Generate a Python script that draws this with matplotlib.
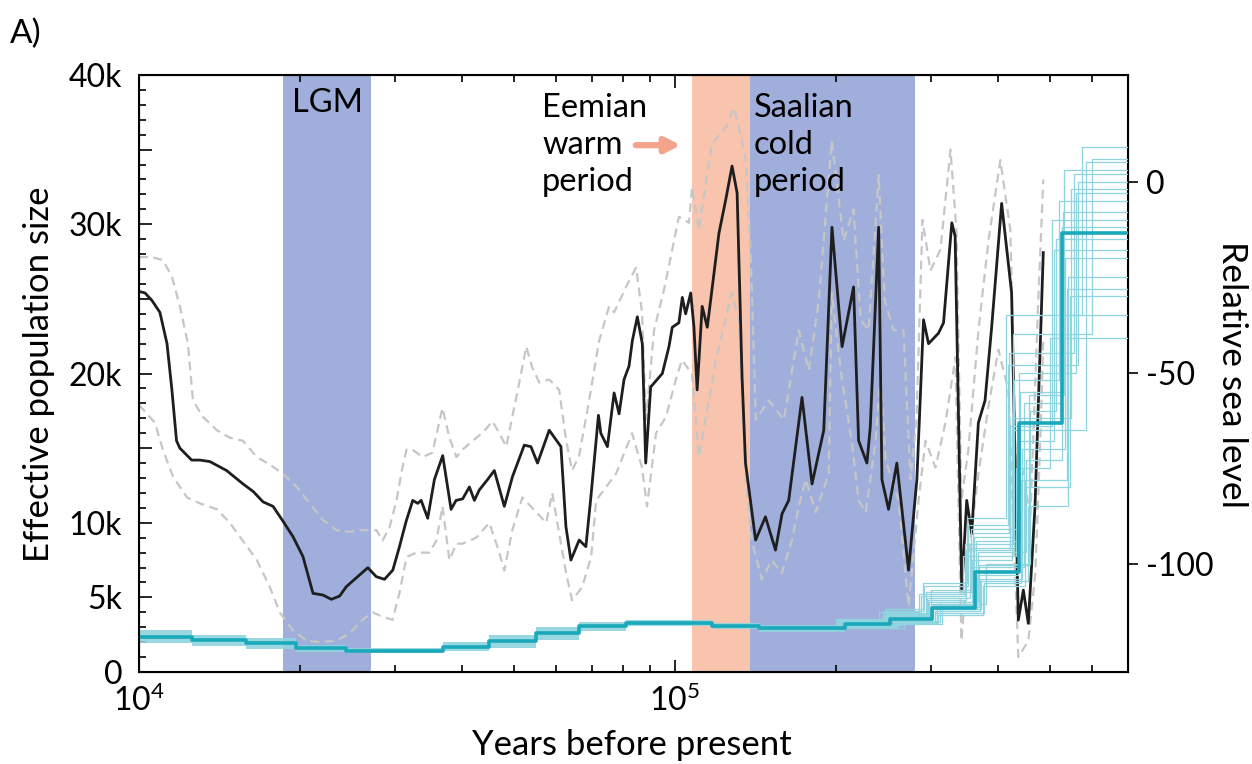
import matplotlib.pyplot as plt
from matplotlib.ticker import MultipleLocator, NullFormatter

plt.rcParams['font.family'] = ['Lato', 'DejaVu Sans']
plt.rcParams['mathtext.fontset'] = 'custom'
plt.rcParams['mathtext.rm'] = 'Lato'

# --- climate periods (years before present) ---
period_start = [18600, 107600, 138000]
period_end = [27100, 138000, 280700]
period_color = ['#a0aedb', '#f8c4ae', '#a0aedb']

# --- effective population size (median) ---
black_years = [10000, 10260, 10570, 10940, 11280, 11520, 11750, 11920, 12540, 12990,
               13560, 14570, 15640, 16330, 17040, 17790, 18570, 19380, 20230, 21120,
               22040, 22850, 23680, 24370, 25790, 26730, 27710, 28710, 29760, 30620,
               31510, 32420, 33120, 33610, 34570, 35580, 36870, 38220, 39050, 40170,
               41350, 42240, 43150, 44720, 46020, 48040, 49770, 52340, 53860, 55410,
               58270, 61270, 62600, 63950, 66260, 68200, 69670, 71990, 72720, 74810,
               76990, 78660, 80350, 82090, 83270, 85070, 86920, 88190, 90100, 94710,
               97450, 98850, 101700, 103200, 104700, 107000, 108500, 110000, 112400, 114900,
               120800, 124300, 127800, 130600, 133400, 135400, 141400, 147500, 154000, 158400,
               163000, 172600, 180200, 189500, 196300, 205000, 215400, 220100, 228100, 231400,
               239900, 243300, 250300, 259400, 272800, 282700, 290900, 297200, 310200, 317000,
               328500, 333200, 342800, 350200, 357800, 368200, 378900, 389800, 406900, 424700,
               437100, 446700, 456300, 469600, 486600]
black_ne = [25500, 25400, 24900, 24100, 22000, 18900, 15500, 15000, 14200, 14200,
            14100, 13500, 12600, 12100, 11400, 11100, 10100, 9070, 7730, 5270,
            5160, 4870, 5090, 5720, 6500, 6990, 6390, 6210, 6830, 8400,
            10100, 11500, 11300, 11500, 10300, 12900, 14500, 10900, 11500, 11600,
            12400, 11500, 12200, 12900, 13500, 11100, 13100, 15200, 15100, 14000,
            16200, 15100, 9740, 7500, 8840, 8400, 11700, 17200, 16000, 15100,
            18700, 17300, 19600, 20500, 22200, 23800, 22000, 14000, 19100, 20000,
            21800, 23100, 23400, 25100, 24000, 25400, 23100, 18900, 24500, 23100,
            29400, 31600, 33900, 32100, 19800, 14000, 8840, 10400, 8170, 10600,
            11500, 18400, 12600, 16200, 29800, 21800, 25800, 15500, 14000, 16400,
            29800, 12900, 10900, 14000, 6830, 12900, 23600, 22000, 22700, 23400,
            30100, 29200, 5490, 11500, 9290, 16700, 18200, 23100, 31400, 25400,
            3480, 5490, 3260, 11100, 28100]

# --- upper / lower bounds ---
upper_years = [10000, 10570, 11080, 11520, 11920, 12340, 12610, 13160, 13980, 14770,
               15620, 16590, 17540, 18540, 19690, 20820, 22010, 23380, 24720, 26130,
               27750, 28470, 29340, 30230, 31010, 31560, 32370, 33810, 35280, 36830,
               37950, 39110, 40130, 42600, 43710, 45640, 47020, 48440, 49720, 51230,
               52790, 54170, 55830, 58270, 60810, 62660, 64290, 66260, 69170, 72200,
               75370, 76990, 81060, 84610, 86800, 88310, 91400, 95400, 101700, 106200,
               107600, 110800, 117200, 124500, 128800, 131600, 135600, 138600, 141500, 149600,
               159600, 170200, 177700, 185500, 196100, 206400, 215400, 222000, 229800, 239900,
               246200, 255700, 266900, 275100, 282200, 289600, 299700, 312800, 326600, 335100,
               342300, 352700, 368300, 384500, 404600, 422500, 433500, 446700, 460200, 476200,
               486600]
upper_ne = [27800, 27800, 27600, 26500, 24500, 22000, 18200, 17100, 16200, 15700,
            15500, 14400, 13900, 13300, 12400, 11300, 10200, 9500, 9400, 9500,
            9500, 8800, 9700, 11500, 13700, 14900, 14900, 14400, 14700, 17700,
            15700, 14400, 14900, 15700, 16000, 16800, 16000, 15100, 17100, 19400,
            21800, 20400, 19400, 19600, 18900, 15500, 13500, 14500, 18200, 22200,
            24500, 24100, 25800, 27100, 24100, 16900, 22900, 25600, 30500, 30100,
            32500, 29600, 35400, 36500, 37800, 36500, 34300, 27600, 16900, 18200,
            16900, 22900, 20200, 24900, 35600, 28900, 31000, 23600, 22900, 33300,
            24900, 22900, 22900, 12900, 16900, 30300, 26900, 28300, 35000, 29600,
            11500, 14900, 22900, 28900, 34300, 29600, 11500, 13500, 10200, 24900,
            33000]
lower_years = [10000, 10710, 11080, 11570, 12290, 12990, 13980, 14770, 15620, 16590,
               17540, 18310, 19360, 20550, 21730, 23380, 24720, 26130, 27280, 28470,
               29720, 30620, 31560, 32940, 34830, 35880, 36830, 37950, 39110, 40130,
               42600, 45040, 47020, 48040, 49720, 51910, 55120, 57520, 59010, 62660,
               64290, 67130, 69760, 71270, 74390, 77660, 83180, 86800, 88700, 92180,
               96210, 100400, 103000, 107600, 110800, 115700, 119200, 127700, 131600, 135600,
               139100, 145200, 151600, 158200, 165200, 170200, 175400, 183100, 193600, 196100,
               204600, 213600, 220100, 226900, 236800, 241900, 247200, 261300, 272800, 284800,
               293400, 306200, 319600, 333700, 342300, 352700, 368300, 384500, 401300, 418800,
               437100, 456300, 470200, 480400, 486600]
lower_ne = [17900, 16700, 14900, 13100, 11700, 11300, 10900, 10000, 8800, 7500,
            5700, 4000, 2800, 2100, 2000, 2100, 2600, 3500, 4000, 3700,
            3500, 5300, 7700, 8000, 8000, 8800, 11100, 7500, 8600, 8600,
            9000, 10000, 8000, 6800, 9500, 11700, 10700, 10000, 12000, 6600,
            4800, 5700, 7700, 11500, 12400, 13300, 16000, 13700, 11100, 16000,
            17100, 19600, 20900, 20000, 14400, 18200, 20900, 25400, 23600, 12900,
            8800, 6200, 7500, 6600, 8800, 11100, 12900, 10700, 13300, 25400,
            19800, 15500, 11500, 10700, 15500, 20000, 14200, 11500, 4400, 11500,
            15500, 13700, 16700, 21100, 2100, 7700, 13300, 17800, 21600, 18900,
            1000, 2100, 6600, 15500, 22200]

# --- relative sea level (m), step series ---
sea_years = [10000, 12540, 15870, 19660, 24370, 36870, 45040, 55040, 66260, 80910,
             117300, 143400, 208000, 252200, 301400, 363000, 438300, 526300, 700000]
sea_level = [-119.2, -120.0, -120.9, -122.2, -122.8, -121.9, -120.3, -118.1, -116.4, -115.6,
             -116.4, -116.9, -115.8, -114.6, -111.7, -102.1, -63.1, -13.4, -13.4]

# spread of the sea-level ensemble (recent part)
band_years = [10000, 12540, 15870, 19660, 24370, 36870, 45040, 55040, 66260, 80910,
              117300, 143400, 208000, 252200]
band_hi = [-117.5, -118.6, -119.6, -121.2, -122.0, -120.6, -118.6, -116.6, -115.4, -114.8,
           -115.6, -116.0, -114.6, -112.5]
band_lo = [-120.8, -121.6, -122.3, -123.1, -123.4, -123.0, -122.0, -120.0, -117.6, -116.4,
           -117.2, -117.8, -117.2, -116.8]

# individual ensemble members (older part)
ens_start, ens_end = 200000, 700000
ens_breaks = [
    [245e3, 295e3, 355e3, 430e3, 520e3],
    [255e3, 305e3, 370e3, 445e3, 535e3],
    [250e3, 300e3, 360e3, 420e3, 555e3],
    [260e3, 310e3, 375e3, 450e3, 545e3],
    [248e3, 290e3, 350e3, 415e3, 575e3],
    [265e3, 300e3, 380e3, 460e3, 515e3],
    [240e3, 285e3, 345e3, 432e3, 500e3],
    [258e3, 315e3, 365e3, 440e3, 530e3],
    [252e3, 298e3, 358e3, 425e3, 585e3],
    [262e3, 308e3, 372e3, 455e3, 540e3],
    [246e3, 292e3, 352e3, 418e3, 565e3],
    [256e3, 303e3, 362e3, 448e3, 525e3],
    [251e3, 296e3, 366e3, 436e3, 510e3],
    [244e3, 288e3, 348e3, 428e3, 600e3],
    [242e3, 298e3, 362e3, 425e3, 548e3],
    [268e3, 312e3, 368e3, 452e3, 528e3],
    [249e3, 294e3, 356e3, 438e3, 560e3],
    [257e3, 306e3, 378e3, 442e3, 538e3],
    [247e3, 297e3, 349e3, 422e3, 505e3],
    [263e3, 302e3, 369e3, 458e3, 532e3],
]
ens_levels = [
    [-115.0, -113.5, -109.0, -96.0, -52.0, -5.0],
    [-116.0, -115.0, -112.5, -104.0, -70.0, -20.0],
    [-115.5, -113.0, -107.0, -92.0, -45.0, 2.0],
    [-116.5, -115.5, -113.5, -106.0, -80.0, -30.0],
    [-114.5, -112.0, -105.0, -88.0, -35.0, 9.0],
    [-116.0, -114.0, -110.5, -100.0, -60.0, -15.0],
    [-115.2, -112.8, -108.0, -98.0, -75.0, -41.0],
    [-116.8, -115.8, -111.0, -94.0, -55.0, -8.0],
    [-115.5, -114.0, -110.0, -99.0, -65.0, 5.0],
    [-116.2, -115.0, -112.0, -104.5, -85.0, -25.0],
    [-114.8, -112.5, -106.0, -90.0, -48.0, 0.0],
    [-115.8, -114.5, -110.8, -101.0, -58.0, -35.0],
    [-115.3, -114.0, -112.0, -103.0, -68.0, -18.0],
    [-115.0, -113.0, -108.5, -95.0, -40.0, 6.0],
    [-115.5, -114.2, -111.5, -93.0, -62.0, -2.0],
    [-116.8, -115.2, -110.0, -97.0, -73.0, -12.0],
    [-114.9, -113.2, -107.5, -91.0, -50.0, -3.0],
    [-116.3, -115.3, -113.0, -105.0, -78.0, -28.0],
    [-115.1, -113.8, -109.5, -96.5, -64.0, -10.0],
    [-116.0, -114.8, -111.5, -100.5, -56.0, 3.0],
]

ne_ticks = [0, 5000, 10000, 15000, 20000, 25000, 30000, 35000, 40000]
ne_labels = ['0', '5k', '10k', '', '20k', '', '30k', '', '40k']
sea_ticks = [-100, -50, 0]

fig = plt.figure(figsize=(12.52, 7.64), dpi=100)
ax = fig.add_axes([0.111, 0.1204, 0.7899, 0.7814])
ax.set_xscale('log')
ax.set_xlim(1e4, 7e5)
ax.set_ylim(0, 40000)

for s, e, c in zip(period_start, period_end, period_color):
    ax.axvspan(s, e, color=c, lw=0, zorder=0)

ax.plot(upper_years, upper_ne, color='#c6c6c6', lw=1.6, ls=(0, (4, 2.5)), zorder=2)
ax.plot(lower_years, lower_ne, color='#c6c6c6', lw=1.6, ls=(0, (4, 2.5)), zorder=2)
ax.plot(black_years, black_ne, color='#1e1e1e', lw=2.0, zorder=3)

ax.set_yticks(ne_ticks)
ax.set_yticklabels(ne_labels)
ax.yaxis.set_minor_locator(MultipleLocator(1000))
ax.xaxis.set_minor_formatter(NullFormatter())
ax.set_xticks([1e4, 1e5])
ax.set_xticklabels([r'$\mathregular{10^4}$', r'$\mathregular{10^5}$'])
ax.tick_params(axis='both', which='both', direction='in', top=True, labelsize=23, width=1.2)
ax.tick_params(axis='both', which='major', length=9)
ax.tick_params(axis='both', which='minor', length=5)
ax.tick_params(axis='y', which='major', pad=12)
ax.tick_params(axis='x', which='major', pad=9)
for sp in ax.spines.values():
    sp.set_linewidth(1.5)

ax2 = ax.twinx()
ax2.set_ylim(-128.4, 27.9)
ax2.fill_between(band_years, band_lo, band_hi, step='post', color='#8fd4de', lw=0, alpha=0.9)
for b, l in zip(ens_breaks, ens_levels):
    ax2.step([ens_start] + b + [ens_end], l + [l[-1]], where='post', color='#8fd4de', lw=0.9)
ax2.step(sea_years, sea_level, where='post', color='#1aa8bb', lw=2.6)
ax2.set_yticks(sea_ticks)
ax2.set_yticklabels(['-100', '-50', '0'])
ax2.tick_params(axis='y', direction='out', length=7, width=1.2, labelsize=23, pad=6)
ax2.set_xlim(1e4, 7e5)

ax.text(22450, 38100, 'LGM', fontsize=23.5, ha='center', va='center')
ax.text(56500, 35300, 'Eemian\nwarm\nperiod', fontsize=23.5, ha='left', va='center', linespacing=1.3)
ax.text(140300, 35300, 'Saalian\ncold\nperiod', fontsize=23.5, ha='left', va='center', linespacing=1.3)
ax.annotate('', xy=(102600, 35300), xytext=(84500, 35300),
            arrowprops=dict(arrowstyle='-|>', color='#f4a48c', lw=4.5, mutation_scale=22,
                            shrinkA=0, shrinkB=0))

fig.text(0.505, 0.025, 'Years before present', fontsize=25, ha='center', va='center')
fig.text(0.031, 0.51, 'Effective population size', fontsize=25, rotation=90, ha='center', va='center')
fig.text(0.984, 0.51, 'Relative sea level', fontsize=25.5, rotation=270, ha='center', va='center')
fig.text(0.008, 0.955, 'A)', fontsize=24, ha='left', va='center')

fig.savefig('out.png', dpi=100)
